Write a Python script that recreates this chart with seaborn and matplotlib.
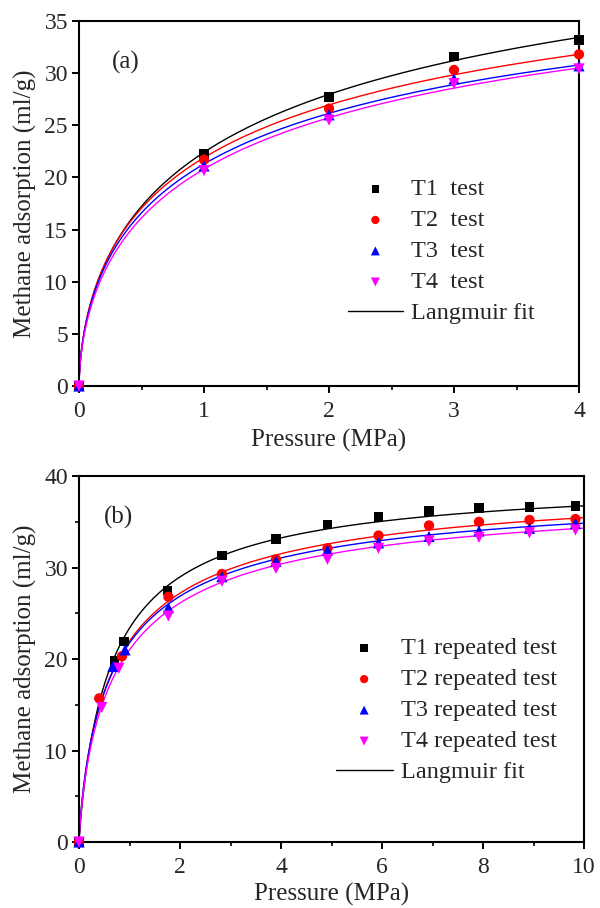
import numpy as np
import pandas as pd
import matplotlib
matplotlib.use("Agg")
import matplotlib.pyplot as plt
import seaborn as sns
from matplotlib.lines import Line2D
from matplotlib.ticker import MultipleLocator

# ---------------- data ----------------
series = ["T1", "T2", "T3", "T4"]
colors = ["#000000", "#FF0000", "#0000FF", "#FF00FF"]
markers = ["s", "o", "^", "v"]

# panel (a): test
a_pressure = [0, 1, 2, 3, 4]
a_T1 = [0, 22.3, 27.7, 31.6, 33.2]
a_T2 = [0, 21.7, 26.6, 30.3, 31.8]
a_T3 = [0, 21.1, 26.0, 29.45, 30.7]
a_T4 = [0, 20.65, 25.5, 29.0, 30.4]

# panel (b): repeated test
b_T1_p = [0, 0.70, 0.89, 1.75, 2.83, 3.90, 4.92, 5.93, 6.93, 7.92, 8.92, 9.83]
b_T1_v = [0, 19.8, 21.9, 27.5, 31.3, 33.1, 34.7, 35.5, 36.2, 36.5, 36.6, 36.7]
b_T2_p = [0, 0.40, 0.85, 1.77, 2.83, 3.90, 4.92, 5.93, 6.93, 7.92, 8.92, 9.83]
b_T2_v = [0, 15.7, 20.3, 26.8, 29.3, 30.9, 32.1, 33.5, 34.6, 35.0, 35.2, 35.3]
b_T3_p = [0, 0.67, 0.91, 1.77, 2.83, 3.90, 4.92, 5.93, 6.93, 7.92, 8.92, 9.83]
b_T3_v = [0, 19.2, 21.0, 25.6, 29.0, 30.7, 31.9, 32.7, 33.4, 34.0, 34.3, 34.8]
b_T4_p = [0, 0.45, 0.79, 1.77, 2.83, 3.90, 4.92, 5.93, 6.93, 7.92, 8.92, 9.83]
b_T4_v = [0, 14.7, 19.0, 24.7, 28.5, 29.9, 30.9, 32.1, 32.9, 33.3, 33.8, 34.1]

# fitted isotherm parameters, V = VL*b*P^n / (1 + b*P^n)
a_fit_VL = [53.8, 48.8, 46.9, 47.6]
a_fit_b = [0.714, 0.814, 0.831, 0.776]
a_fit_n = [0.6, 0.6, 0.6, 0.6]
b_fit_VL = [40.04, 40.09, 39.31, 38.96]
b_fit_b = [1.404, 1.212, 1.2405, 1.1695]
b_fit_n = [0.9, 0.8, 0.8, 0.8]

a_labels = ["T1  test", "T2  test", "T3  test", "T4  test"]
b_labels = ["T1 repeated test", "T2 repeated test", "T3 repeated test", "T4 repeated test"]
fit_label = "Langmuir fit"
xlabel = "Pressure (MPa)"
ylabel = "Methane adsorption (ml/g)"

# ---------------- style ----------------
sns.set_style("ticks")
plt.rcParams["font.family"] = ["Liberation Serif", "DejaVu Serif"]

fig = plt.figure(figsize=(6.0, 9.08), dpi=100)
ax_a = fig.add_axes([0.1317, 0.5749, 0.8333, 0.402])
ax_b = fig.add_axes([0.1317, 0.0727, 0.8417, 0.403])


def isotherm(p, vl, b, n):
    pn = np.power(p, n)
    return vl * b * pn / (1.0 + b * pn)


def draw_panel(ax, pdata, vdata, labels, vl, bb, nn, xmax, xlabelpad):
    pgrid = np.concatenate([[0.0], np.geomspace(1e-5, xmax, 600)])
    for i in range(4):
        fit_df = pd.DataFrame({"P": pgrid, "V": isotherm(pgrid, vl[i], bb[i], nn[i])})
        sns.lineplot(data=fit_df, x="P", y="V", ax=ax, color=colors[i], lw=1.0,
                     legend=False, sort=False, zorder=2)
    for i in range(4):
        df = pd.DataFrame({"P": pdata[i], "V": vdata[i]})
        size = 48 if markers[i] == "s" else (55 if markers[i] == "o" else 65)
        sns.scatterplot(data=df, x="P", y="V", ax=ax, color=colors[i], marker=markers[i],
                        s=size, edgecolor="none", linewidth=0, label=labels[i],
                        zorder=3, clip_on=False)
    ax.set_xlabel(xlabel, fontsize=18, labelpad=xlabelpad)
    ax.set_ylabel(ylabel, fontsize=18, labelpad=5)
    for sp in ax.spines.values():
        sp.set_visible(True)
        sp.set_linewidth(1.5)
        sp.set_color("black")
    ax.tick_params(axis="both", which="major", direction="out", length=5, width=1.4,
                   labelsize=17, color="black", top=False, right=False)
    ax.tick_params(axis="both", which="minor", direction="out", length=3, width=1.2,
                   color="black", top=False, right=False)
    ax.tick_params(axis="x", which="major", pad=6)
    ax.tick_params(axis="y", which="major", pad=3)


draw_panel(ax_a, [a_pressure] * 4, [a_T1, a_T2, a_T3, a_T4], a_labels,
           a_fit_VL, a_fit_b, a_fit_n, 4.0, 5.0)
ax_a.set_xlim(0, 4)
ax_a.set_ylim(0, 35)
ax_a.xaxis.set_major_locator(MultipleLocator(1))
ax_a.xaxis.set_minor_locator(MultipleLocator(0.5))
ax_a.yaxis.set_major_locator(MultipleLocator(5))
ax_a.text(0.066, 0.885, "(a)", transform=ax_a.transAxes, fontsize=18, va="center", ha="left")

draw_panel(ax_b, [b_T1_p, b_T2_p, b_T3_p, b_T4_p], [b_T1_v, b_T2_v, b_T3_v, b_T4_v], b_labels,
           b_fit_VL, b_fit_b, b_fit_n, 10.0, 3.0)
ax_b.set_xlim(0, 10)
ax_b.set_ylim(0, 40)
ax_b.xaxis.set_major_locator(MultipleLocator(2))
ax_b.xaxis.set_minor_locator(MultipleLocator(1))
ax_b.yaxis.set_major_locator(MultipleLocator(10))
ax_b.yaxis.set_minor_locator(MultipleLocator(5))
ax_b.text(0.05, 0.888, "(b)", transform=ax_b.transAxes, fontsize=18, va="center", ha="left")


def make_legend(ax, anchor, hlen):
    handles, labels = ax.get_legend_handles_labels()
    handles = list(handles[:4]) + [Line2D([0], [0], color="black", lw=1.0)]
    labels = list(labels[:4]) + [fit_label]
    ax.legend(handles, labels, loc="upper left", bbox_to_anchor=anchor, frameon=False,
              fontsize=17.5, handlelength=hlen, handletextpad=0.35, labelspacing=0.37,
              borderpad=0, borderaxespad=0, markerscale=0.8)


make_legend(ax_a, (0.538, 0.569), 2.25)
make_legend(ax_b, (0.508, 0.559), 2.35)

fig.savefig("out.png", dpi=100, facecolor="white")
